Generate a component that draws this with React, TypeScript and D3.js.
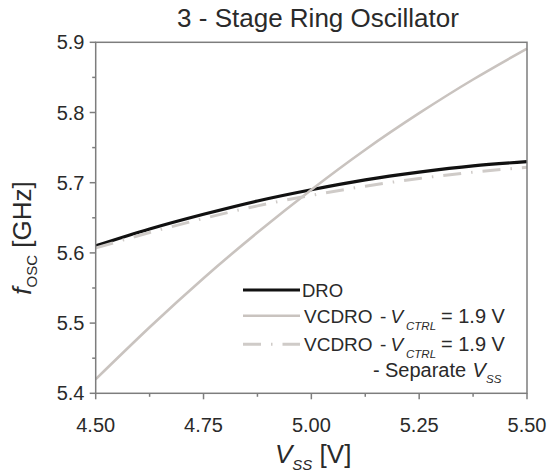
import * as d3 from "d3";

// V_SS sweep points [V]
const vss = [4.5, 4.625, 4.75, 4.875, 5.0, 5.125, 5.25, 5.375, 5.5];
// f_OSC [GHz]
const dro = [5.61, 5.634, 5.655, 5.674, 5.69, 5.704, 5.715, 5.724, 5.73];
const vcdro = [5.42, 5.494, 5.564, 5.629, 5.69, 5.747, 5.799, 5.847, 5.891];
const vcdroSep = [5.607, 5.629, 5.649, 5.667, 5.682, 5.695, 5.706, 5.715, 5.722];

const xTicks = [4.5, 4.75, 5.0, 5.25, 5.5];
const xMinor = [4.625, 4.875, 5.125, 5.375];
const yTicks = [5.4, 5.5, 5.6, 5.7, 5.8, 5.9];
const yMinor = [5.45, 5.55, 5.65, 5.75, 5.85];

const W = 548;
const H = 472;
const FONT = "'Liberation Sans', Arial, sans-serif";
const AXIS = "#7d7d7d";
const TEXT = "#2a2a2a";
const DASH = "18 10 1.5 10";

function LegendLabel({ y }: { y: number }) {
  // "VCDRO - V_CTRL = 1.9 V"
  return (
    <text y={y} fontSize={19} fill={TEXT}>
      <tspan x={304}>VCDRO</tspan>
      <tspan x={380}>-</tspan>
      <tspan x={390.5} fontStyle="italic">V</tspan>
      <tspan x={406} fontSize={11.5} fontStyle="italic" dy={7}>CTRL</tspan>
      <tspan x={441} dy={-7} fontSize={20}>= 1.9 V</tspan>
    </text>
  );
}

export default function App() {
  const x = d3.scaleLinear().domain([4.5, 5.5]).range([95.7, 527]);
  const y = d3.scaleLinear().domain([5.4, 5.9]).range([393.3, 42.3]);

  const line = d3
    .line<number>()
    .x((_, i) => x(vss[i]))
    .y((d) => y(d))
    .curve(d3.curveNatural);

  const [x0, x1] = x.range();
  const [y0, y1] = y.range();

  // legend sample lines
  const lgX0 = 243;
  const lgX1 = 300;

  return (
    <svg
      width={W}
      height={H}
      style={{ position: "absolute", left: 0, top: 0, background: "#fff" }}
      fontFamily={FONT}
    >
      <text x={318} y={26.5} textAnchor="middle" fontSize={26} fill={TEXT}>
        3 - Stage Ring Oscillator
      </text>

      {/* series */}
      <path d={line(dro)!} fill="none" stroke="#111" strokeWidth={3.2} />
      <path d={line(vcdro)!} fill="none" stroke="#c9c3bf" strokeWidth={2.6} />
      <path
        d={line(vcdroSep)!}
        fill="none"
        stroke="#cfcbc8"
        strokeWidth={3}
        strokeDasharray={DASH}
      />

      {/* frame */}
      <rect
        x={x0}
        y={y1}
        width={x1 - x0}
        height={y0 - y1}
        fill="none"
        stroke={AXIS}
        strokeWidth={1.5}
      />

      {/* x ticks */}
      {xTicks.map((t) => (
        <g key={"x" + t}>
          <line x1={x(t)} x2={x(t)} y1={y0} y2={y0 + 6} stroke={AXIS} strokeWidth={1.5} />
          <text x={x(t)} y={432} textAnchor="middle" fontSize={20} fill={TEXT}>
            {d3.format(".2f")(t)}
          </text>
        </g>
      ))}
      {xMinor.map((t) => (
        <line key={"xm" + t} x1={x(t)} x2={x(t)} y1={y0} y2={y0 + 3.5} stroke={AXIS} strokeWidth={1.5} />
      ))}

      {/* y ticks */}
      {yTicks.map((t) => (
        <g key={"y" + t}>
          <line x1={x0 - 6} x2={x0} y1={y(t)} y2={y(t)} stroke={AXIS} strokeWidth={1.5} />
          <text x={84.5} y={y(t) + 7} textAnchor="end" fontSize={20} fill={TEXT}>
            {d3.format(".1f")(t)}
          </text>
        </g>
      ))}
      {yMinor.map((t) => (
        <line key={"ym" + t} x1={x0 - 3.5} x2={x0} y1={y(t)} y2={y(t)} stroke={AXIS} strokeWidth={1.5} />
      ))}

      {/* axis titles */}
      <text x={275} y={462.5} fontSize={26} fill={TEXT}>
        <tspan fontStyle="italic">V</tspan>
        <tspan fontSize={15} fontStyle="italic" dy={7}>SS</tspan>
        <tspan dy={-7}> [V]</tspan>
      </text>
      <text
        transform="translate(31,238) rotate(-90)"
        textAnchor="middle"
        fontSize={26}
        fill={TEXT}
      >
        <tspan fontStyle="italic">f</tspan>
        <tspan fontSize={15} dy={6}>OSC</tspan>
        <tspan dy={-6}> [GHz]</tspan>
      </text>

      {/* legend */}
      <line x1={lgX0} x2={lgX1} y1={290} y2={290} stroke="#111" strokeWidth={3.2} />
      <text x={302} y={296.7} fontSize={18.5} fill={TEXT}>
        DRO
      </text>

      <line x1={lgX0} x2={lgX1} y1={315.7} y2={315.7} stroke="#c9c3bf" strokeWidth={2.6} />
      <LegendLabel y={323.3} />

      <line
        x1={lgX0}
        x2={lgX1}
        y1={344.3}
        y2={344.3}
        stroke="#cfcbc8"
        strokeWidth={3}
        strokeDasharray={DASH}
      />
      <LegendLabel y={351} />
      <text y={377} fontSize={20} fill={TEXT}>
        <tspan x={373}>-</tspan>
        <tspan x={385}>Separate</tspan>
        <tspan x={472.5} fontStyle="italic">V</tspan>
        <tspan x={486} fontSize={11.5} fontStyle="italic" dy={6}>SS</tspan>
      </text>
    </svg>
  );
}
